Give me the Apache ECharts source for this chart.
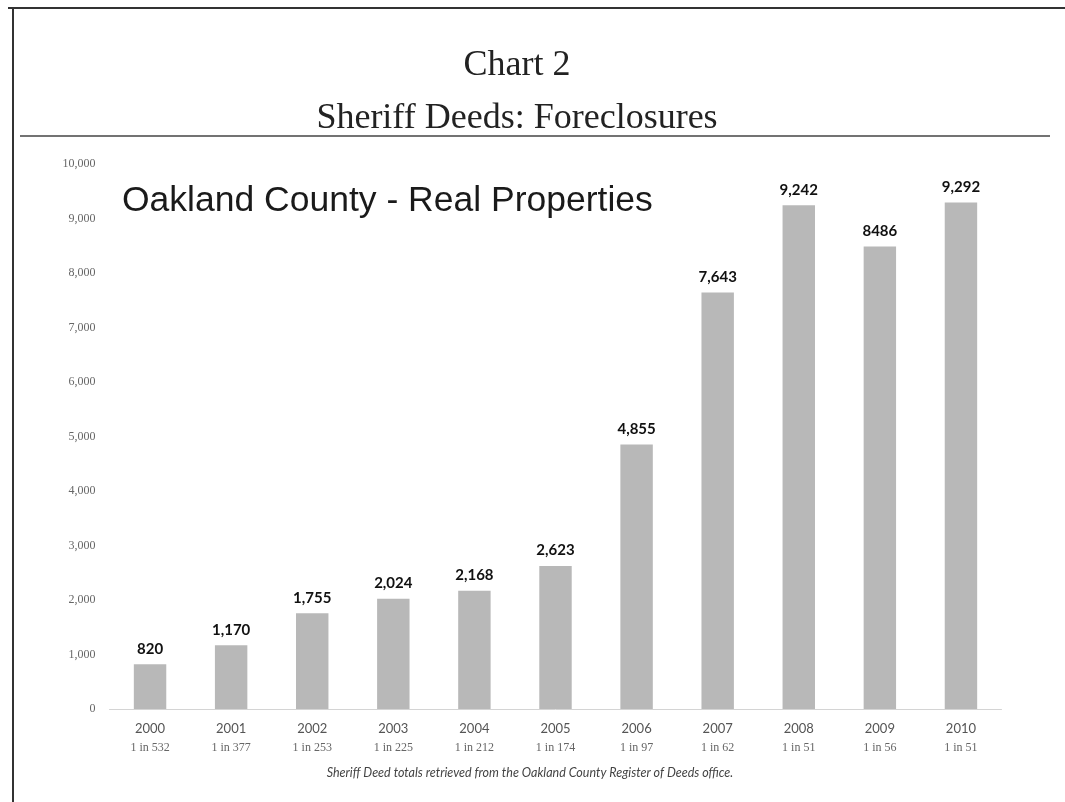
<!DOCTYPE html>
<html>
<head>
<meta charset="utf-8">
<script src="https://cdn.jsdelivr.net/npm/echarts@6/dist/echarts.min.js"></script>
<style>
  html, body { margin: 0; padding: 0; background: #ffffff; }
  #chart { width: 1065px; height: 802px; }
</style>
</head>
<body>
<div id="chart"></div>
<script>
// Sheriff deed (foreclosure) totals, Oakland County, by year
const years = ['2000', '2001', '2002', '2003', '2004', '2005', '2006', '2007', '2008', '2009', '2010'];
const deeds = [820, 1170, 1755, 2024, 2168, 2623, 4855, 7643, 9242, 8486, 9292];
const deedLabels = ['820', '1,170', '1,755', '2,024', '2,168', '2,623', '4,855', '7,643', '9,242', '8486', '9,292'];
const ratios = ['1 in 532', '1 in 377', '1 in 253', '1 in 225', '1 in 212', '1 in 174', '1 in 97', '1 in 62', '1 in 51', '1 in 56', '1 in 51'];
const yTicks = { min: 0, max: 10000, step: 1000 };

const chart = echarts.init(document.getElementById('chart'), null, { renderer: 'canvas' });

chart.setOption({
  backgroundColor: '#ffffff',
  animation: false,
  title: [
    {
      text: 'Chart 2',
      left: 517, top: 48, textAlign: 'center', padding: 0,
      textStyle: { fontFamily: 'Liberation Serif', fontWeight: 'normal', fontSize: 36, color: '#222' }
    },
    {
      text: 'Sheriff Deeds: Foreclosures',
      left: 517, top: 101, textAlign: 'center', padding: 0,
      textStyle: { fontFamily: 'Liberation Serif', fontWeight: 'normal', fontSize: 36, color: '#222' }
    },
    {
      text: 'Oakland County - Real Properties',
      left: 122, top: 183, padding: 0,
      textStyle: { fontFamily: 'Liberation Sans', fontWeight: 'normal', fontSize: 35.5, color: '#1a1a1a' }
    },
    {
      text: 'Sheriff Deed totals retrieved from the Oakland County Register of Deeds office.',
      left: 530, top: 766, textAlign: 'center', padding: 0,
      textStyle: { fontFamily: 'Lato', fontStyle: 'italic', fontWeight: 'normal', fontSize: 12.5, color: '#444' }
    }
  ],
  graphic: [
    // page frame: top edge and left edge
    { type: 'line', shape: { x1: 8, y1: 8, x2: 1065, y2: 8 }, style: { stroke: '#333', lineWidth: 2 } },
    { type: 'line', shape: { x1: 13, y1: 8, x2: 13, y2: 802 }, style: { stroke: '#333', lineWidth: 2 } },
    // rule under the heading
    { type: 'line', shape: { x1: 20, y1: 136, x2: 1050, y2: 136 }, style: { stroke: '#444', lineWidth: 1.5 } }
  ],
  grid: { left: 109.5, right: 63.5, top: 164, bottom: 93, containLabel: false },
  xAxis: {
    type: 'category',
    data: years,
    axisLine: { show: true, lineStyle: { color: '#d4d4d4', width: 1 } },
    axisTick: { show: false },
    axisLabel: {
      interval: 0,
      margin: 11,
      formatter: function (v, i) {
        return '{y|' + v + '}\n{r|' + ratios[i] + '}';
      },
      rich: {
        y: { fontFamily: 'Lato', fontSize: 13, color: '#555', lineHeight: 18 },
        r: { fontFamily: 'Liberation Serif', fontSize: 12, color: '#666', lineHeight: 19 }
      }
    }
  },
  yAxis: {
    type: 'value',
    min: yTicks.min,
    max: yTicks.max,
    interval: yTicks.step,
    axisLine: { show: false },
    axisTick: { show: false },
    splitLine: { show: false },
    axisLabel: {
      margin: 14,
      fontFamily: 'Liberation Serif',
      fontSize: 12,
      color: '#666',
      formatter: function (v) { return v.toLocaleString('en-US'); }
    }
  },
  series: [{
    type: 'bar',
    data: deeds,
    barWidth: '40%',
    itemStyle: { color: '#b8b8b8' },
    label: {
      show: true,
      position: 'top',
      distance: 8,
      fontFamily: 'Lato',
      fontWeight: 'bold',
      fontSize: 15,
      color: '#111',
      formatter: function (p) { return deedLabels[p.dataIndex]; }
    }
  }]
});
</script>
</body>
</html>
